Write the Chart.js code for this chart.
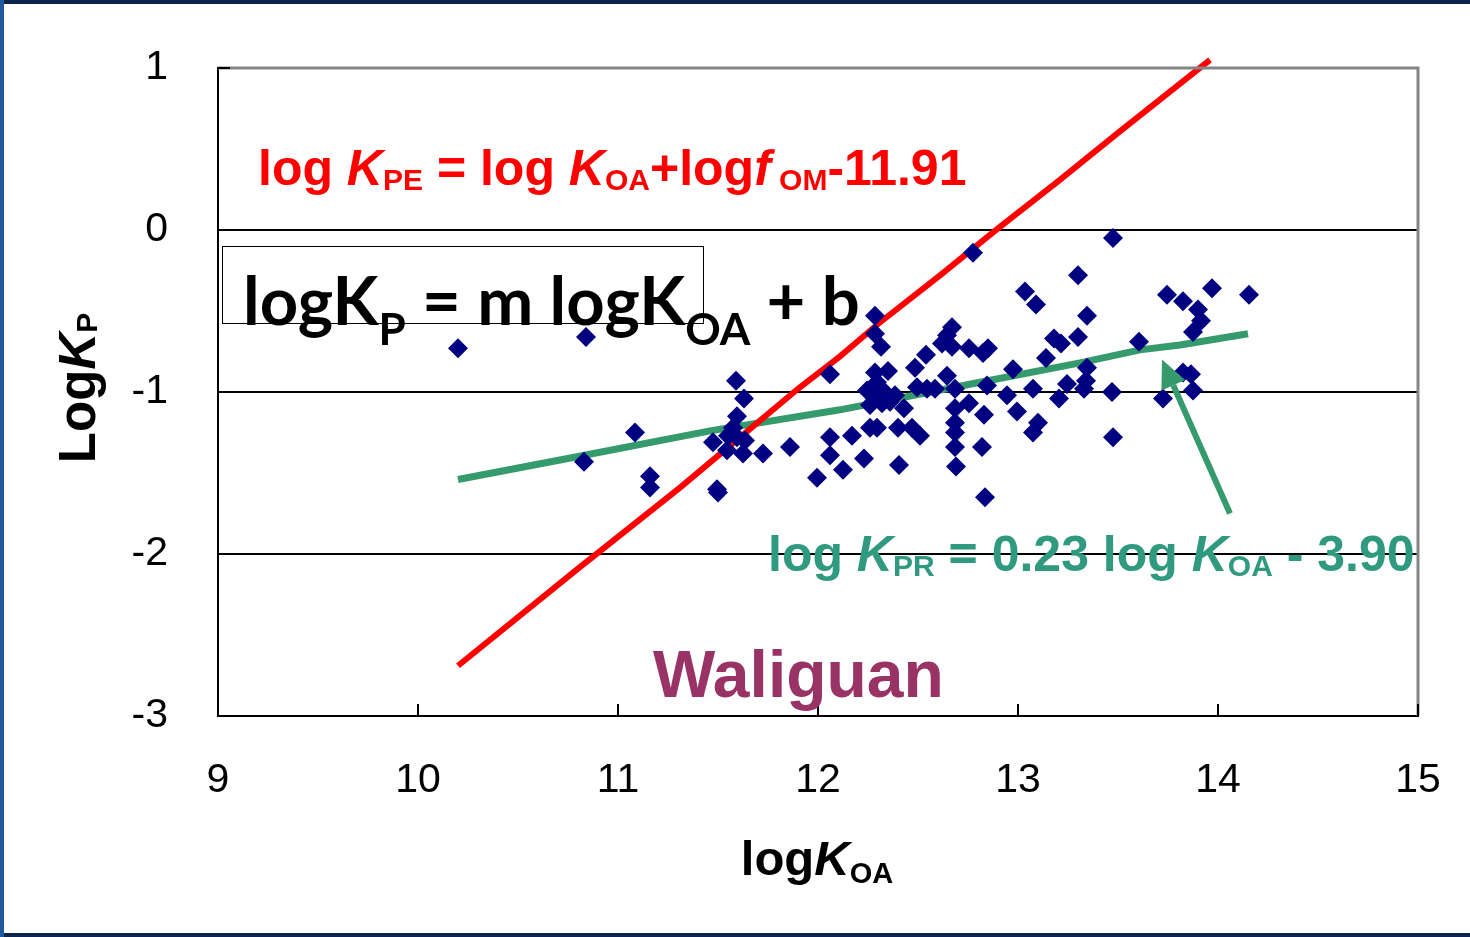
<!DOCTYPE html>
<html>
<head>
<meta charset="utf-8">
<title>Waliguan logKP vs logKOA</title>
<script src="https://cdn.jsdelivr.net/npm/chart.js@4.4.1/dist/chart.umd.min.js"></script>
<style>
  html, body { margin: 0; padding: 0; background: #fff; }
  #wrap { width: 1470px; height: 937px; position: relative; }
</style>
</head>
<body>
<div id="wrap"><canvas id="chart" width="1470" height="937"></canvas></div>
<script>
// Measured points (logKOA, logKP)
const koaValues = [10.20, 10.84, 10.83, 11.085, 11.16, 11.16, 11.495, 11.50, 11.59, 11.63,
    11.595, 11.575, 11.475, 11.545, 11.635, 11.625, 11.595, 11.55, 11.725, 11.86,
    12.06, 12.06, 12.06, 12.17, 12.125, 11.995, 12.23, 12.285, 12.285, 12.315,
    12.285, 12.35, 12.295, 12.245, 12.275, 12.325, 12.26, 12.32, 12.36, 12.385,
    12.26, 12.295, 12.40, 12.405, 12.43, 12.47, 12.51, 12.485, 12.54, 12.495,
    12.545, 12.585, 12.62, 12.645, 12.67, 12.67, 12.645, 12.685, 12.755, 12.85,
    12.825, 12.775, 12.755, 12.685, 12.685, 12.685, 12.685, 12.69, 12.83, 12.82,
    12.835, 12.845, 12.945, 12.975, 12.995, 13.035, 13.09, 13.075, 13.10, 13.075,
    13.14, 13.18, 13.215, 13.205, 13.245, 13.30, 13.30, 13.345, 13.345, 13.34,
    13.33, 13.47, 13.475, 13.475, 13.605, 13.725, 13.745, 13.825, 13.97, 14.155,
    13.90, 13.915, 13.875, 13.825, 13.865, 13.875];
const kpValues = [-0.73, -0.66, -1.43, -1.25, -1.52, -1.59, -1.60, -1.62, -0.93, -1.04,
    -1.15, -1.22, -1.31, -1.36, -1.30, -1.38, -1.28, -1.27, -1.38, -1.34,
    -0.89, -1.28, -1.39, -1.27, -1.48, -1.53, -1.41, -0.53, -0.64, -0.72,
    -0.88, -0.87, -0.94, -0.99, -1.01, -0.99, -1.08, -1.07, -1.06, -1.02,
    -1.22, -1.22, -1.22, -1.45, -1.10, -1.22, -1.27, -0.85, -0.77, -0.97,
    -0.98, -0.98, -0.70, -0.65, -0.60, -0.72, -0.90, -0.98, -0.73, -0.73,
    -0.76, -0.14, -1.07, -1.10, -1.19, -1.25, -1.34, -1.46, -1.14, -1.34,
    -1.65, -0.96, -1.02, -0.86, -1.12, -0.38, -0.46, -0.98, -1.19, -1.25,
    -0.79, -0.67, -0.70, -1.04, -0.95, -0.28, -0.66, -0.53, -0.85, -0.93,
    -0.98, -1.00, -1.28, -0.05, -0.69, -1.04, -0.40, -0.44, -0.36, -0.40,
    -0.49, -0.56, -0.63, -0.88, -0.89, -0.99];

// Predicted equilibrium line (red, KPE)
const peKoa = [10.2, 10.8, 11.31, 11.9, 12.11, 12.3, 12.61, 12.9, 13.2, 13.5, 13.96];
const peKp = [-2.69, -2.09, -1.59, -0.98, -0.78, -0.58, -0.28, 0.01, 0.30, 0.60, 1.05];

// Regression line (green, KPR)
const prKoa = [10.2, 10.71, 11.46, 12.11, 12.81, 13.31, 13.61, 13.81, 14.15];
const prKp = [-1.54, -1.42, -1.24, -1.11, -0.94, -0.82, -0.74, -0.71, -0.64];

// Axis ticks
const xTicks = [9, 10, 11, 12, 13, 14, 15];
const yTicks = [-3, -2, -1, 0, 1];

const FONT = '"Liberation Sans", Arial, sans-serif';
const RED = '#ff0000';
const GREEN = '#359a6c';
const GREEN_TEXT = '#2f9a80';

// Draw a run of text pieces (for italics and subscripts)
function richWidth(ctx, parts, family) {
    let w = 0;
    parts.forEach(p => {
        ctx.font = `${p.italic ? 'italic ' : ''}bold ${p.size}px ${family}`;
        w += ctx.measureText(p.text).width;
    });
    return w;
}

function drawRich(ctx, x, y, parts, family) {
    parts.forEach(p => {
        ctx.font = `${p.italic ? 'italic ' : ''}bold ${p.size}px ${family}`;
        ctx.fillText(p.text, x, y + (p.dy || 0));
        x += ctx.measureText(p.text).width;
    });
}

const overlayPlugin = {
    id: 'overlay',
    beforeDatasetsDraw(chart) {
        const { ctx, scales: { x, y } } = chart;
        // formula box
        ctx.save();
        ctx.strokeStyle = '#000';
        ctx.lineWidth = 1;
        const bx0 = x.getPixelForValue(9.02), bx1 = x.getPixelForValue(11.425);
        const by0 = y.getPixelForValue(-0.099), by1 = y.getPixelForValue(-0.574);
        ctx.strokeRect(Math.round(bx0) + 0.5, Math.round(by0) + 0.5, Math.round(bx1 - bx0), Math.round(by1 - by0));
        ctx.restore();
    },
    afterDraw(chart) {
        const { ctx, chartArea: a, scales: { x, y } } = chart;
        ctx.save();

        // gray top/right frame of plot area
        ctx.strokeStyle = '#858585';
        ctx.lineWidth = 3;
        ctx.beginPath();
        ctx.moveTo(a.left, a.top);
        ctx.lineTo(a.right, a.top);
        ctx.lineTo(a.right, a.bottom);
        ctx.stroke();

        // inside tick marks
        ctx.strokeStyle = '#000';
        ctx.lineWidth = 2;
        ctx.beginPath();
        yTicks.forEach(v => {
            const py = Math.round(y.getPixelForValue(v));
            ctx.moveTo(a.left, py);
            ctx.lineTo(a.left + 12, py);
        });
        xTicks.forEach(v => {
            const px = Math.round(x.getPixelForValue(v));
            ctx.moveTo(px, a.bottom);
            ctx.lineTo(px, a.bottom - 12);
        });
        ctx.stroke();

        // arrow pointing at regression line
        const tx = x.getPixelForValue(14.06), ty = y.getPixelForValue(-1.75);
        const hx = x.getPixelForValue(13.72), hy = y.getPixelForValue(-0.80);
        const ang = Math.atan2(hy - ty, hx - tx);
        const headLen = 28, headW = 13;
        const bxp = hx - Math.cos(ang) * headLen, byp = hy - Math.sin(ang) * headLen;
        ctx.strokeStyle = GREEN;
        ctx.fillStyle = GREEN;
        ctx.lineWidth = 6;
        ctx.beginPath();
        ctx.moveTo(tx, ty);
        ctx.lineTo(bxp, byp);
        ctx.stroke();
        ctx.beginPath();
        ctx.moveTo(hx, hy);
        ctx.lineTo(bxp + Math.sin(ang) * headW, byp - Math.cos(ang) * headW);
        ctx.lineTo(bxp - Math.sin(ang) * headW, byp + Math.cos(ang) * headW);
        ctx.closePath();
        ctx.fill();

        ctx.textBaseline = 'alphabetic';
        ctx.textAlign = 'left';

        // red equation
        ctx.fillStyle = RED;
        drawRich(ctx, x.getPixelForValue(9.2), y.getPixelForValue(0.278), [
            { text: 'log ', size: 50 },
            { text: 'K', size: 50, italic: true },
            { text: 'PE', size: 30, dy: 5 },
            { text: ' = log ', size: 50 },
            { text: 'K', size: 50, italic: true },
            { text: 'OA', size: 30, dy: 5 },
            { text: '+log', size: 50 },
            { text: 'f', size: 50, italic: true },
            { text: ' OM', size: 30, dy: 5 },
            { text: '-11.91', size: 50 }
        ], FONT);

        // green equation
        ctx.fillStyle = GREEN_TEXT;
        drawRich(ctx, x.getPixelForValue(11.75), y.getPixelForValue(-2.105), [
            { text: 'log ', size: 50 },
            { text: 'K', size: 50, italic: true },
            { text: 'PR', size: 30, dy: 5 },
            { text: ' = 0.23 log ', size: 50 },
            { text: 'K', size: 50, italic: true },
            { text: 'OA', size: 30, dy: 5 },
            { text: ' - 3.90', size: 50 }
        ], FONT);

        // general form
        ctx.fillStyle = '#000';
        drawRich(ctx, x.getPixelForValue(9.125), y.getPixelForValue(-0.586), [
            { text: 'logK', size: 67 },
            { text: 'P', size: 44, dy: 20 },
            { text: ' = m logK', size: 67 },
            { text: 'OA', size: 44, dy: 20 },
            { text: ' + b', size: 67 }
        ], 'Lato, "Open Sans", sans-serif');

        // site name
        ctx.fillStyle = '#993366';
        ctx.font = `bold 66px ${FONT}`;
        ctx.fillText('Waliguan', x.getPixelForValue(11.175), y.getPixelForValue(-2.883));

        // x axis title
        ctx.fillStyle = '#000';
        const xt = [
            { text: 'log', size: 49 },
            { text: 'K', size: 49, italic: true },
            { text: 'OA', size: 29, dy: 8 }
        ];
        const xw = richWidth(ctx, xt, FONT);
        drawRich(ctx, 817 - xw / 2, 875, xt, FONT);

        // y axis title (rotated)
        const yt = [
            { text: 'Log', size: 51 },
            { text: 'K', size: 51, italic: true },
            { text: 'P', size: 30, dy: 2 }
        ];
        const yw = richWidth(ctx, yt, FONT);
        ctx.save();
        ctx.translate(95, 388);
        ctx.rotate(-Math.PI / 2);
        drawRich(ctx, -yw / 2, 0, yt, FONT);
        ctx.restore();

        // outer frame
        ctx.lineWidth = 4;
        ctx.strokeStyle = '#0c2449';
        ctx.beginPath();
        ctx.moveTo(0, 2); ctx.lineTo(1470, 2);
        ctx.moveTo(0, 935); ctx.lineTo(1470, 935);
        ctx.stroke();
        ctx.strokeStyle = '#1d5aa0';
        ctx.beginPath();
        ctx.moveTo(2, 0); ctx.lineTo(2, 937);
        ctx.stroke();

        ctx.restore();
    }
};

const ctx = document.getElementById('chart').getContext('2d');
new Chart(ctx, {
    type: 'scatter',
    data: {
        datasets: [
            {
                label: 'measured',
                data: koaValues.map((v, i) => ({ x: v, y: kpValues[i] })),
                pointStyle: 'rectRot',
                pointRadius: 10,
                pointBackgroundColor: '#000080',
                pointBorderColor: '#000080',
                pointBorderWidth: 0,
                order: 0
            },
            {
                label: 'KPE',
                type: 'line',
                data: peKoa.map((v, i) => ({ x: v, y: peKp[i] })),
                borderColor: RED,
                borderWidth: 6,
                pointRadius: 0,
                fill: false,
                clip: false,
                order: 1
            },
            {
                label: 'KPR',
                type: 'line',
                data: prKoa.map((v, i) => ({ x: v, y: prKp[i] })),
                borderColor: GREEN,
                borderWidth: 7,
                pointRadius: 0,
                fill: false,
                order: 2
            }
        ]
    },
    options: {
        responsive: false,
        animation: false,
        layout: { padding: { top: 68, right: 52, left: 0, bottom: 0 } },
        plugins: {
            legend: { display: false },
            tooltip: { enabled: false }
        },
        scales: {
            x: {
                type: 'linear',
                min: 9,
                max: 15,
                afterBuildTicks: scale => { scale.ticks = xTicks.map(v => ({ value: v })); },
                afterFit: scale => {
                    scale.height = 221;
                    scale.paddingLeft = 0;
                    scale.paddingRight = 0;
                },
                border: { color: '#000', width: 2 },
                grid: { display: false, drawTicks: false },
                ticks: {
                    color: '#000',
                    padding: 40,
                    maxRotation: 0,
                    font: { family: FONT, size: 41 }
                }
            },
            y: {
                type: 'linear',
                min: -3,
                max: 1,
                afterBuildTicks: scale => { scale.ticks = yTicks.map(v => ({ value: v })); },
                afterFit: scale => {
                    scale.width = 218;
                    scale.paddingTop = 0;
                    scale.paddingBottom = 0;
                },
                border: { color: '#000', width: 2 },
                grid: {
                    drawTicks: false,
                    lineWidth: 2,
                    color: c => (c.tick && c.tick.value > -3 && c.tick.value < 1) ? '#000' : 'rgba(0,0,0,0)'
                },
                ticks: {
                    color: '#000',
                    padding: 50,
                    font: { family: FONT, size: 41 }
                }
            }
        }
    },
    plugins: [overlayPlugin]
});
</script>
</body>
</html>
